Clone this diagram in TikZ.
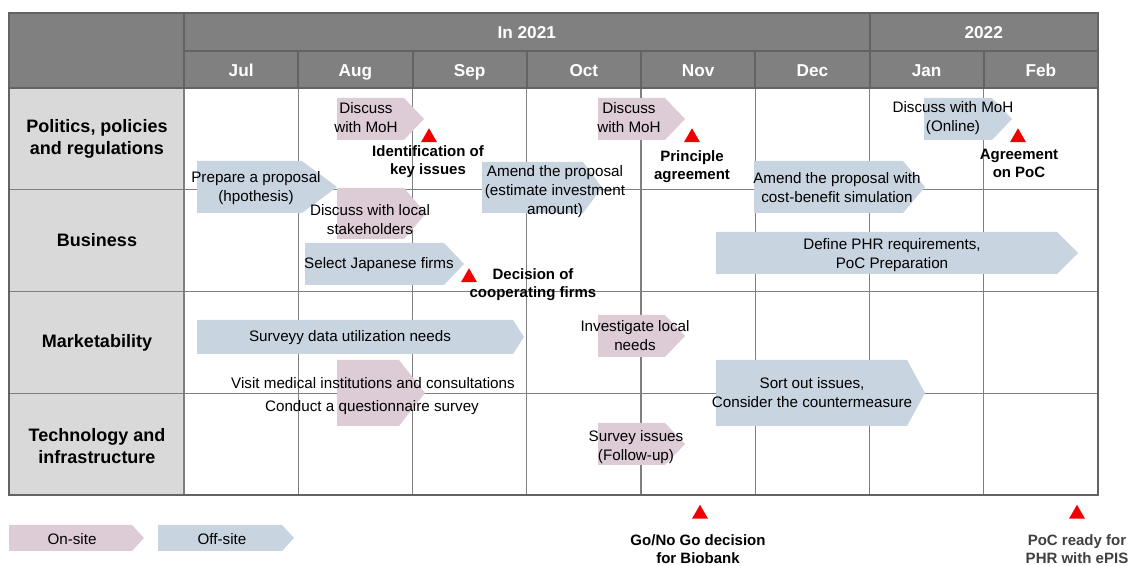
\documentclass[tikz,border=0pt]{standalone}
\usepackage{fontspec}
\setmainfont{Liberation Sans}
\usepackage{tikz}
\usetikzlibrary{shapes.geometric}
\usepackage{xcolor}

\definecolor{hdrgray}{HTML}{808080}
\definecolor{hdrline}{HTML}{636363}
\definecolor{lblgray}{HTML}{D9D9D9}
\definecolor{gridgray}{HTML}{7F7F7F}
\definecolor{onsite}{HTML}{DDCBD6}
\definecolor{offsite}{HTML}{C8D4DF}
\definecolor{msred}{HTML}{F00000}
\definecolor{softblack}{HTML}{404040}

% 箭头形工作块：颜色, 左, 上, 尖端, 下, 尖长
\newcommand{\phasebar}[6]{%
  \fill[#1] (#2,#3) -- ({#4-#6},#3) -- (#4,{(#3+#5)/2}) -- ({#4-#6},#5) -- (#2,#5) -- cycle;}

\begin{document}
\begin{tikzpicture}[x=0.5pt,y=-0.5pt,
    body/.style={font=\fontsize{7.6}{9.5}\selectfont, align=center, inner sep=0pt},
    rowlabel/.style={font=\fontsize{9}{11}\selectfont\bfseries, align=center, inner sep=0pt},
    month/.style={font=\fontsize{8.6}{10}\selectfont\bfseries, text=white, inner sep=0pt, anchor=base},
    milestone/.style={regular polygon, regular polygon sides=3, fill=msred,
        minimum size=9.2pt, inner sep=0pt},
    mstext/.style={font=\fontsize{7.5}{9}\selectfont\bfseries, align=center, inner sep=0pt}]
    \useasboundingbox (0,0) rectangle (1132,566);

    % 表头与左列
    \fill[hdrgray] (9,13) rectangle (1098,88);
    \fill[lblgray] (9,88) rectangle (184,495);

    % 网格
    \foreach \x in {298.25,412.5,526.75,641,755.25,869.5,983.75}
        \draw[gridgray, line width=0.6pt] (\x,88) -- (\x,495);
    \foreach \y in {189.75,291.5,393.25}
        \draw[gridgray, line width=0.6pt] (9,\y) -- (1098,\y);
    \draw[gridgray, line width=0.6pt] (184,88) -- (184,495);

    % 表头分隔线
    \draw[hdrline, line width=1pt] (184,13) -- (184,88) (869.5,13) -- (869.5,88) (184,51) -- (1098,51);
    \foreach \x in {298.25,412.5,526.75,641,755.25,983.75}
        \draw[hdrline, line width=1pt] (\x,51) -- (\x,88);
    \draw[hdrline, line width=1.3pt] (9,88) -- (1098,88);
    \draw[hdrline, line width=1pt] (9,13) rectangle (1098,495);

    % 年份与月份
    \node[month] (y2021) at (526.75,39) {In 2021};
    \node[month] (y2022) at (983.75,39) {2022};
    \foreach \m [count=\i from 0] in {Jul,Aug,Sep,Oct,Nov,Dec,Jan,Feb}
        \node[month] (mon\i) at ({241.125+114.25*\i},76.5) {\m};

    % 行标题
    \node[rowlabel] (politics) at (97,139) {Politics, policies\\and regulations};
    \node[rowlabel] (business) at (97,240) {Business};
    \node[rowlabel] (market) at (97,343) {Marketability};
    \node[rowlabel] (techinfra) at (97,446) {Technology and\\infrastructure};

    % 工作块
    \phasebar{onsite}{337}{98}{424}{140}{20}
    \phasebar{onsite}{598}{98}{685}{140}{20}
    \phasebar{offsite}{924}{98}{1012}{140}{20}
    \phasebar{offsite}{197}{161}{337}{213}{35}
    \phasebar{offsite}{482}{162}{602}{213}{19}
    \phasebar{offsite}{754}{161}{925}{213}{22}
    \phasebar{onsite}{337}{188}{426}{239}{22}
    \phasebar{offsite}{305}{243}{464}{285}{20}
    \phasebar{offsite}{716}{232}{1078}{274}{21}
    \phasebar{offsite}{197}{320}{524}{354}{11}
    \phasebar{onsite}{598}{315}{685}{357}{20}
    \phasebar{onsite}{337}{360}{425}{426}{26}
    \phasebar{offsite}{716}{360}{925}{426}{18}
    \phasebar{onsite}{598}{423}{685}{465}{20}

    % 工作块文字
    \node[body] (mohaug) at (366,118) {Discuss\\with MoH};
    \node[body] (mohoct) at (629,118) {Discuss\\with MoH};
    \node[body] (mohjan) at (953,118) {Discuss with MoH\\(Online)};
    \node[body] (prepare) at (256,188) {Prepare a proposal\\(hpothesis)};
    \node[body] (amend) at (555,192) {Amend the proposal\\(estimate investment\\amount)};
    \node[body] (amendcb) at (837,188) {Amend the proposal with\\cost-benefit simulation};
    \node[body] (localsh) at (370,219.5) {Discuss with local\\stakeholders};
    \node[body] (selectjp) at (379,265) {Select Japanese firms};
    \node[body] (definephr) at (892,255) {Define PHR requirements,\\PoC Preparation};
    \node[body] (surveyy) at (350,338) {Surveyy data utilization needs};
    \node[body] (investig) at (635,335.5) {Investigate local\\needs};
    \node[body] (visit) at (373,383) {Visit medical institutions and consultations};
    \node[body] (quest) at (372,408) {Conduct a questionnaire survey};
    \node[body] (sortout) at (812,393) {Sort out issues,\\Consider the countermeasure};
    \node[body] (followup) at (636,447) {Survey issues\\(Follow-up)};

    % 里程碑
    \node[milestone] (ms1) at (429,137.5) {};
    \node[milestone] (ms2) at (692,137.5) {};
    \node[milestone] (ms3) at (1018,137.5) {};
    \node[milestone] (ms4) at (469,277.5) {};
    \node[milestone] (ms5) at (700,514) {};
    \node[milestone] (ms6) at (1077,514) {};
    \node[mstext] (keyiss) at (428,162) {Identification of\\key issues};
    \node[mstext] (princ) at (692,167) {Principle\\agreement};
    \node[mstext] (agrpoc) at (1019,163) {Agreement\\on PoC};
    \node[mstext] (decfirm) at (533,285) {Decision of\\cooperating firms};
    \node[mstext] (gonogo) at (698,549.5) {Go/No Go decision\\for Biobank};
    \node[mstext, text=softblack] (pocready) at (1077,549) {PoC ready for\\PHR with ePIS};

    % 图例
    \phasebar{onsite}{9}{525}{144}{551}{12}
    \phasebar{offsite}{158}{525}{294}{551}{12}
    \node[body] (legon) at (72,539) {On-site};
    \node[body] (legoff) at (222,539) {Off-site};
\end{tikzpicture}
\end{document}
